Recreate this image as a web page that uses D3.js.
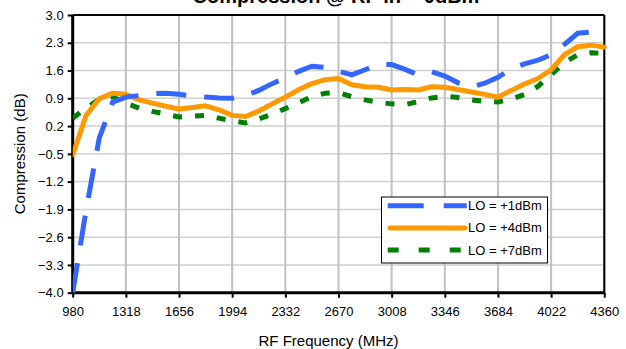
<!DOCTYPE html>
<html><head><meta charset="utf-8">
<script src="https://cdn.jsdelivr.net/npm/d3@7"></script>
<style>body{margin:0;background:#fff}svg{display:block}text{font-family:Arial,"Liberation Sans",sans-serif}</style>
</head><body>
<svg id="c" width="626" height="349"></svg>
<script>
const title = "Compression @ RF in = 0dBm";
const xLabel = "RF Frequency (MHz)";
const yLabel = "Compression (dB)";
const xTicks = [980,1318,1656,1994,2332,2670,3008,3346,3684,4022,4360];
const yTicks = [-4.0,-3.3,-2.6,-1.9,-1.2,-0.5,0.2,0.9,1.6,2.3,3.0];
const freqs = [980,1065,1149,1234,1318,1403,1487,1572,1656,1741,1825,1910,1994,2079,2163,2248,2332,2417,2501,2586,2670,2755,2839,2924,3008,3093,3177,3262,3346,3431,3515,3600,3684,3769,3853,3938,4022,4107,4191,4276,4360];
const lo1 = [-4.0,-1.92,-0.10,0.80,0.93,0.97,1.02,1.03,1.00,0.96,0.93,0.91,0.90,0.97,1.10,1.27,1.42,1.58,1.71,1.68,1.58,1.49,1.62,1.76,1.75,1.63,1.49,1.57,1.46,1.29,1.19,1.28,1.43,1.65,1.77,1.86,2.00,2.26,2.54,2.57,2.57];
const lo4 = [-0.53,0.47,0.89,1.03,1.00,0.86,0.78,0.70,0.63,0.67,0.71,0.61,0.47,0.44,0.58,0.76,0.93,1.12,1.27,1.37,1.40,1.24,1.19,1.18,1.11,1.12,1.11,1.19,1.18,1.12,1.06,1.00,0.93,1.10,1.26,1.40,1.62,2.00,2.20,2.24,2.19];
const lo7 = [0.40,0.65,0.88,0.94,0.78,0.65,0.57,0.50,0.43,0.45,0.47,0.40,0.33,0.28,0.38,0.50,0.64,0.79,0.94,1.03,1.04,0.94,0.86,0.80,0.76,0.74,0.82,0.91,0.95,0.92,0.86,0.82,0.81,0.88,1.00,1.20,1.50,1.80,2.00,2.05,2.03];
const seriesNames = ["LO = +1dBm","LO = +4dBm","LO = +7dBm"];
const seriesColors = ["#3366ff","#ff9900","#008000"];

const svg = d3.select("#c");
const L=72.7, R=604.3, T=15, B=292.7;
const x = d3.scaleLinear().domain([980,4360]).range([L,R]);
const y = d3.scaleLinear().domain([-4,3]).range([B,T]);

// grid
svg.append("g").selectAll("line").data(yTicks).join("line")
  .attr("x1",L).attr("x2",R).attr("y1",d=>y(d)).attr("y2",d=>y(d))
  .attr("stroke","#d0d0d0").attr("stroke-width",1.5);
svg.append("g").selectAll("line").data(xTicks).join("line")
  .attr("x1",d=>x(d)).attr("x2",d=>x(d)).attr("y1",T).attr("y2",B)
  .attr("stroke","#c0c0c0").attr("stroke-width",2);

// frame top/right
svg.append("line").attr("x1",L).attr("x2",R).attr("y1",T).attr("y2",T).attr("stroke","#000").attr("stroke-width",2);
svg.append("line").attr("x1",R).attr("x2",R).attr("y1",T).attr("y2",B).attr("stroke","#000").attr("stroke-width",2);

// axes
const yAxis = d3.axisLeft(y).tickValues(yTicks).tickFormat(d3.format(".1f")).tickSize(5).tickPadding(4);
const gy = svg.append("g").attr("transform",`translate(${L},0)`).call(yAxis);
const xAxis = d3.axisBottom(x).tickValues(xTicks).tickFormat(d3.format("d")).tickSize(5).tickPadding(9);
const gx = svg.append("g").attr("transform",`translate(0,${B})`).call(xAxis);
[gx,gy].forEach(g=>{
  g.select(".domain").attr("stroke","#000").attr("stroke-width",3);
  g.selectAll(".tick line").attr("stroke","#000").attr("stroke-width",2);
  g.selectAll(".tick text").attr("fill","#000").style("font-size","13px").style("font-family","Arial, 'Liberation Sans', sans-serif");
});
gy.select(".domain").attr("d",`M0,${T}V${B}`);
gx.select(".domain").attr("d",`M${L},0H${R}`);

// lines
const clip = svg.append("clipPath").attr("id","pc").append("rect").attr("x",L).attr("y",T-4).attr("width",R-L+4).attr("height",B-T+4);
const line = d3.line().x((d,i)=>x(freqs[i])).y(d=>y(d));
const g = svg.append("g").attr("clip-path","url(#pc)");
g.append("path").attr("d",line(lo7)).attr("fill","none").attr("stroke",seriesColors[2]).attr("stroke-width",5).attr("stroke-dasharray","9,13");
g.append("path").attr("d",line(lo4)).attr("fill","none").attr("stroke",seriesColors[1]).attr("stroke-width",5).attr("stroke-linejoin","round").attr("stroke-linecap","round");
g.append("path").attr("d",line(lo1)).attr("fill","none").attr("stroke",seriesColors[0]).attr("stroke-width",5).attr("stroke-dasharray","30,18");

// legend
const lg = svg.append("g");
lg.append("rect").attr("x",381.5).attr("y",197).attr("width",166).attr("height",66).attr("fill","#fff").attr("stroke","#000").attr("stroke-width",1);
const dashes = ["36,20",null,"11,20"];
seriesNames.forEach((n,i)=>{
  const yy = 205.7 + i*22.2;
  const ln = lg.append("line").attr("x1",387.7).attr("x2",466.7).attr("y1",yy).attr("y2",yy)
    .attr("stroke",seriesColors[i]).attr("stroke-width",5);
  if(dashes[i]) ln.attr("stroke-dasharray",dashes[i]); else ln.attr("stroke-linecap","round").attr("x1",390).attr("x2",465);
  lg.append("text").attr("x",468).attr("y",yy+4.5).style("font-size","13px").text(n);
});

// titles
svg.append("text").attr("x",336).attr("y",3).attr("text-anchor","middle").style("font-size","20px").style("font-weight","bold").text(title);
svg.append("text").attr("x",328.5).attr("y",345.5).attr("text-anchor","middle").style("font-size","15px").text(xLabel);
svg.append("text").attr("transform","translate(25,153.8) rotate(-90)").attr("text-anchor","middle").style("font-size","15px").text(yLabel);
</script>
</body></html>
